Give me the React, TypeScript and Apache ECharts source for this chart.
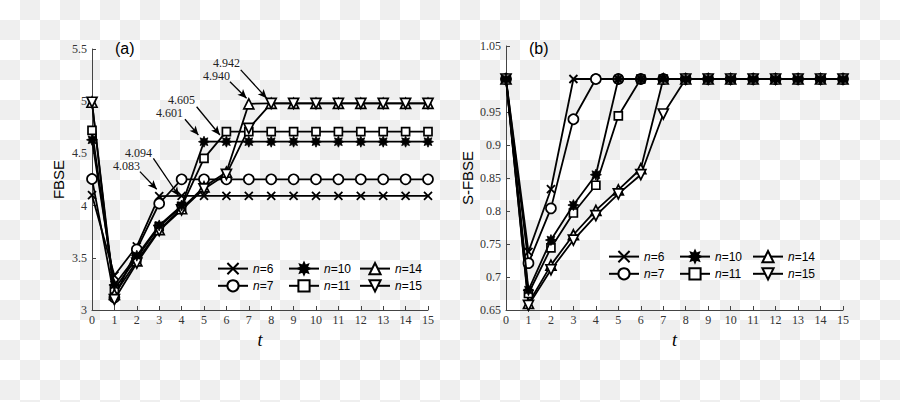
import React, { useEffect, useRef } from 'react';
import * as echarts from 'echarts';

// ---------- data ----------
const tValues = [0, 1, 2, 3, 4, 5, 6, 7, 8, 9, 10, 11, 12, 13, 14, 15];
const seriesNames = ['n=6', 'n=7', 'n=10', 'n=11', 'n=14', 'n=15'];

// (a) FBSE
const fbseN6 = [4.10, 3.33, 3.61, 4.09, 4.094, 4.094, 4.094, 4.094, 4.094, 4.094, 4.094, 4.094, 4.094, 4.094, 4.094, 4.094];
const fbseN7 = [4.255, 3.12, 3.58, 4.02, 4.252, 4.252, 4.252, 4.252, 4.252, 4.252, 4.252, 4.252, 4.252, 4.252, 4.252, 4.252];
const fbseN10 = [4.63, 3.24, 3.52, 3.81, 4.00, 4.612, 4.612, 4.612, 4.612, 4.612, 4.612, 4.612, 4.612, 4.612, 4.612, 4.612];
const fbseN11 = [4.72, 3.20, 3.50, 3.80, 3.99, 4.453, 4.708, 4.708, 4.708, 4.708, 4.708, 4.708, 4.708, 4.708, 4.708, 4.708];
const fbseN14 = [4.99, 3.15, 3.47, 3.77, 3.97, 4.18, 4.32, 4.975, 4.98, 4.98, 4.98, 4.98, 4.98, 4.98, 4.98, 4.98];
const fbseN15 = [4.99, 3.10, 3.45, 3.76, 3.96, 4.16, 4.30, 4.74, 4.98, 4.98, 4.98, 4.98, 4.98, 4.98, 4.98, 4.98];

// (b) S-FBSE
const sfbseN6 = [1, 0.738, 0.833, 1, 1, 1, 1, 1, 1, 1, 1, 1, 1, 1, 1, 1];
const sfbseN7 = [1, 0.721, 0.804, 0.939, 1, 1, 1, 1, 1, 1, 1, 1, 1, 1, 1, 1];
const sfbseN10 = [1, 0.680, 0.756, 0.809, 0.855, 1, 1, 1, 1, 1, 1, 1, 1, 1, 1, 1];
const sfbseN11 = [1, 0.675, 0.744, 0.797, 0.839, 0.944, 1, 1, 1, 1, 1, 1, 1, 1, 1, 1];
const sfbseN14 = [1, 0.660, 0.718, 0.764, 0.801, 0.832, 0.864, 1, 1, 1, 1, 1, 1, 1, 1, 1];
const sfbseN15 = [1, 0.657, 0.711, 0.756, 0.793, 0.826, 0.855, 0.947, 1, 1, 1, 1, 1, 1, 1, 1];

// annotations in (a): value text, arrow tail [t, FBSE], arrow tip [t, FBSE]
const annotationTexts = ['4.083', '4.094', '4.601', '4.605', '4.940', '4.942'];
const annotationTails = [[2.14, 4.325], [2.74, 4.453], [4.15, 4.827], [4.67, 4.947], [6.16, 5.187], [6.64, 5.30]];
const annotationTips = [[2.89, 4.156], [3.88, 4.092], [4.75, 4.676], [5.71, 4.676], [6.9, 5.028], [7.8, 5.028]];

// ---------- styling ----------
const crossPath = 'path://M0,0L10,10M10,0L0,10';
const starPath = (() => {
  const pts: string[] = [];
  for (let i = 0; i < 16; i++) {
    const a = (i * Math.PI) / 8 - Math.PI / 2;
    const r = i % 2 === 0 ? 5 : 2.8;
    pts.push((5 + r * Math.cos(a)).toFixed(3) + ',' + (5 + r * Math.sin(a)).toFixed(3));
  }
  return 'path://M' + pts.join('L') + 'Z';
})();

const hollow = { color: '#fff', borderColor: '#000', borderWidth: 1.7 };
const markerStyles: Record<string, any> = {
  'n=6': { symbol: crossPath, symbolSize: 8, itemStyle: { color: '#000', borderColor: '#000', borderWidth: 1.8 } },
  'n=7': { symbol: 'circle', symbolSize: 10, itemStyle: hollow },
  'n=10': { symbol: starPath, symbolSize: 11, itemStyle: { color: '#000', borderColor: '#000', borderWidth: 0.8 }, z: 3 },
  'n=11': { symbol: 'rect', symbolSize: 8, itemStyle: hollow },
  'n=14': { symbol: 'triangle', symbolSize: 10, itemStyle: hollow },
  'n=15': { symbol: 'triangle', symbolSize: 10, symbolRotate: 180, itemStyle: hollow },
};

const serifFont = 'Liberation Serif';
const sansFont = 'Liberation Sans';

function makeSeries(name: string, values: number[], idx: number, extra: any = {}) {
  const m = markerStyles[name];
  return {
    type: 'line',
    name,
    xAxisIndex: idx,
    yAxisIndex: idx,
    data: tValues.map((t, i) => [t, values[i]]),
    symbol: m.symbol,
    symbolSize: m.symbolSize,
    symbolRotate: m.symbolRotate || 0,
    showAllSymbol: true,
    itemStyle: m.itemStyle,
    lineStyle: { color: '#000', width: 1.8 },
    z: m.z || 2,
    emphasis: { disabled: true },
    ...extra,
  };
}

function xAxisCfg(gridIndex: number) {
  return {
    gridIndex,
    type: 'value',
    min: 0,
    max: 15,
    interval: 1,
    name: 't',
    nameLocation: 'middle',
    nameGap: 14,
    nameTextStyle: { fontFamily: serifFont, fontStyle: 'italic', fontSize: 18, color: '#000' },
    axisLine: { onZero: false, lineStyle: { color: '#444', width: 1 } },
    axisTick: { inside: true, length: 4, lineStyle: { color: '#444' } },
    axisLabel: { fontFamily: serifFont, fontSize: 12, color: '#333', margin: 4 },
    splitLine: { show: false },
  };
}

function yAxisCfg(gridIndex: number, name: string, min: number, max: number, interval: number, nameGap: number, fmt: (v: number) => string) {
  return {
    gridIndex,
    type: 'value',
    min,
    max,
    interval,
    name,
    nameLocation: 'middle',
    nameGap,
    nameTextStyle: { fontFamily: sansFont, fontSize: 15, color: '#000' },
    axisLine: { onZero: false, lineStyle: { color: '#444', width: 1 } },
    axisTick: { inside: true, length: 4, lineStyle: { color: '#444' } },
    axisLabel: { fontFamily: serifFont, fontSize: 12, color: '#333', margin: 5, formatter: fmt },
    splitLine: { show: false },
  };
}

function legendCol(left: number, top: number, names: string[]) {
  return {
    orient: 'vertical',
    left,
    top,
    padding: 0,
    itemWidth: 30,
    itemHeight: 14,
    itemGap: 4,
    selectedMode: false,
    data: names,
    formatter: (n: string) => '{i|n}' + n.slice(1),
    textStyle: {
      fontFamily: sansFont,
      fontSize: 12,
      color: '#000',
      rich: { i: { fontFamily: sansFont, fontStyle: 'italic', fontSize: 12, color: '#000' } },
    },
  };
}

export default function App() {
  const ref = useRef<HTMLDivElement>(null);

  useEffect(() => {
    if (!ref.current) return;
    const chart = echarts.init(ref.current, undefined, { renderer: 'svg' });

    const arrowLines = annotationTails.map((tail, i) => [
      { coord: tail },
      { coord: annotationTips[i] },
    ]);

    const labelPositions = [
      [140, 166], [152, 153], [183, 113], [195, 100], [230, 76], [240, 63],
    ];

    const seriesA = [
      makeSeries('n=6', fbseN6, 0, {
        markLine: {
          silent: true,
          symbol: ['none', 'arrow'],
          symbolSize: [6, 9],
          label: { show: false },
          lineStyle: { color: '#000', width: 1.3, type: 'solid' },
          emphasis: { disabled: true },
          data: arrowLines,
        },
      }),
      makeSeries('n=7', fbseN7, 0),
      makeSeries('n=11', fbseN11, 0),
      makeSeries('n=14', fbseN14, 0),
      makeSeries('n=15', fbseN15, 0),
      makeSeries('n=10', fbseN10, 0),
    ];
    const seriesB = [
      makeSeries('n=6', sfbseN6, 1),
      makeSeries('n=7', sfbseN7, 1),
      makeSeries('n=11', sfbseN11, 1),
      makeSeries('n=14', sfbseN14, 1),
      makeSeries('n=15', sfbseN15, 1),
      makeSeries('n=10', sfbseN10, 1),
    ];

    chart.setOption({
      animation: false,
      backgroundColor: 'transparent',
      title: [
        { text: '(a)', left: 115, top: 40, padding: 0, textStyle: { fontFamily: sansFont, fontSize: 16, fontWeight: 'normal', color: '#000' } },
        { text: '(b)', left: 529, top: 40, padding: 0, textStyle: { fontFamily: sansFont, fontSize: 16, fontWeight: 'normal', color: '#000' } },
      ],
      grid: [
        { left: 92, right: 472, top: 49, bottom: 92 },
        { left: 506, right: 57, top: 46, bottom: 92 },
      ],
      xAxis: [xAxisCfg(0), xAxisCfg(1)],
      yAxis: [
        yAxisCfg(0, 'FBSE', 3, 5.5, 0.5, 26, (v: number) => String(+v.toFixed(2))),
        yAxisCfg(1, 'S-FBSE', 0.65, 1.05, 0.05, 31, (v: number) => (Math.abs(v - 1) < 1e-6 ? '' : String(+v.toFixed(2)))),
      ],
      legend: [
        legendCol(217, 262, [seriesNames[0], seriesNames[1]]),
        legendCol(288, 262, [seriesNames[2], seriesNames[3]]),
        legendCol(359, 262, [seriesNames[4], seriesNames[5]]),
        legendCol(608, 250, [seriesNames[0], seriesNames[1]]),
        legendCol(679, 250, [seriesNames[2], seriesNames[3]]),
        legendCol(752, 250, [seriesNames[4], seriesNames[5]]),
      ],
      graphic: annotationTexts.map((txt, i) => ({
        type: 'text',
        x: labelPositions[i][0],
        y: labelPositions[i][1],
        silent: true,
        style: {
          text: txt,
          align: 'right',
          verticalAlign: 'middle',
          fontFamily: serifFont,
          fontSize: 12,
          fill: '#222',
        },
      })),
      series: [...seriesA, ...seriesB],
    });

    return () => chart.dispose();
  }, []);

  return (
    <div
      ref={ref}
      style={{
        position: 'fixed',
        left: 0,
        top: 0,
        width: 900,
        height: 402,
        backgroundColor: '#fff',
        backgroundImage: 'repeating-conic-gradient(#efefef 0 25%, #ffffff 0 50%)',
        backgroundSize: '40px 40px',
        backgroundPosition: '0 0',
      }}
    />
  );
}
